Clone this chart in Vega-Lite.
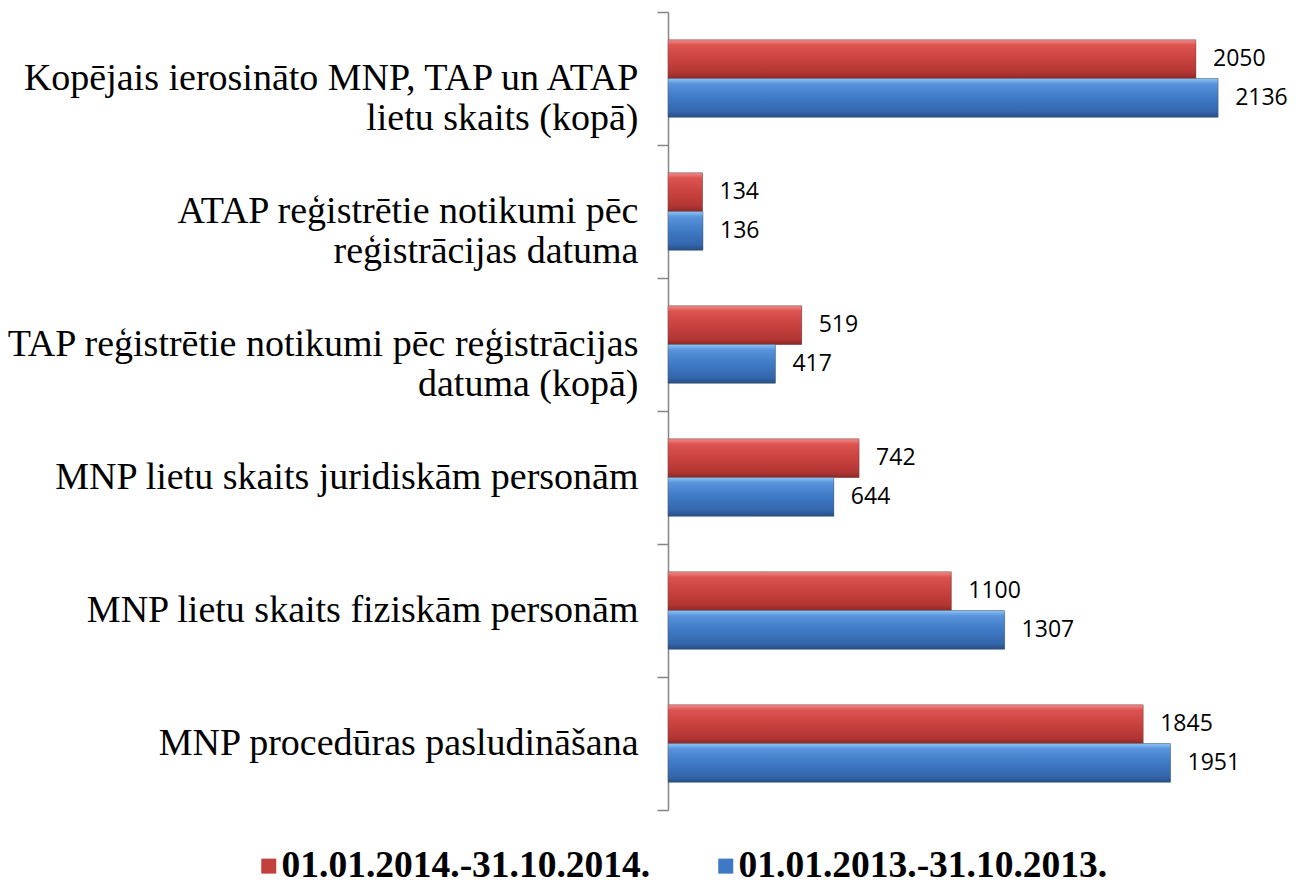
{
  "$schema": "https://vega.github.io/schema/vega-lite/v6.json",
  "width": 631,
  "height": 798,
  "autosize": {"type": "none"},
  "padding": {"left": 668, "top": 12, "right": 6, "bottom": 73},
  "background": "white",
  "config": {"view": {"stroke": null}},
  "data": {
    "values": [
      {"category": "Kopējais ierosināto MNP, TAP un ATAP|lietu skaits (kopā)", "series": "01.01.2014.-31.10.2014.", "value": 2050},
      {"category": "Kopējais ierosināto MNP, TAP un ATAP|lietu skaits (kopā)", "series": "01.01.2013.-31.10.2013.", "value": 2136},
      {"category": "ATAP reģistrētie notikumi pēc|reģistrācijas datuma", "series": "01.01.2014.-31.10.2014.", "value": 134},
      {"category": "ATAP reģistrētie notikumi pēc|reģistrācijas datuma", "series": "01.01.2013.-31.10.2013.", "value": 136},
      {"category": "TAP reģistrētie notikumi pēc reģistrācijas|datuma (kopā)", "series": "01.01.2014.-31.10.2014.", "value": 519},
      {"category": "TAP reģistrētie notikumi pēc reģistrācijas|datuma (kopā)", "series": "01.01.2013.-31.10.2013.", "value": 417},
      {"category": "MNP lietu skaits juridiskām personām", "series": "01.01.2014.-31.10.2014.", "value": 742},
      {"category": "MNP lietu skaits juridiskām personām", "series": "01.01.2013.-31.10.2013.", "value": 644},
      {"category": "MNP lietu skaits fiziskām personām", "series": "01.01.2014.-31.10.2014.", "value": 1100},
      {"category": "MNP lietu skaits fiziskām personām", "series": "01.01.2013.-31.10.2013.", "value": 1307},
      {"category": "MNP procedūras pasludināšana", "series": "01.01.2014.-31.10.2014.", "value": 1845},
      {"category": "MNP procedūras pasludināšana", "series": "01.01.2013.-31.10.2013.", "value": 1951}
    ]
  },
  "encoding": {
    "y": {
      "field": "category",
      "type": "nominal",
      "sort": null,
      "scale": {"paddingInner": 0, "paddingOuter": 0},
      "axis": {
        "title": null,
        "tickBand": "extent",
        "tickSize": 11,
        "tickWidth": 1.5,
        "tickColor": "#868686",
        "domainColor": "#868686",
        "domainWidth": 1.5,
        "labelFont": "Liberation Serif",
        "labelFontSize": 38,
        "labelColor": "black",
        "labelPadding": 19,
        "labelLimit": 0,
        "labelOverlap": false,
        "labelBound": false,
        "labelLineHeight": 40,
        "labelExpr": "split(datum.label, '|')"
      }
    },
    "yOffset": {
      "field": "series",
      "type": "nominal",
      "sort": ["01.01.2014.-31.10.2014.", "01.01.2013.-31.10.2013."],
      "scale": {"paddingInner": 0, "paddingOuter": 0.72}
    },
    "x": {"field": "value", "type": "quantitative", "scale": {"domain": [0, 2450], "nice": false}, "axis": null}
  },
  "layer": [
    {
      "mark": {"type": "bar"},
      "encoding": {
        "color": {
          "field": "series",
          "type": "nominal",
          "scale": {"domain": ["01.01.2014.-31.10.2014.", "01.01.2013.-31.10.2013."], "range": ["#C4403D", "#3D79C4"]},
          "legend": {
            "orient": "none",
            "legendX": -418,
            "legendY": 835,
            "direction": "horizontal",
            "title": null,
            "labelFont": "Liberation Serif",
            "labelFontWeight": "bold",
            "labelFontSize": 37.5,
            "labelColor": "black",
            "labelLimit": 0,
            "labelOffset": -6,
            "columnPadding": 56,
            "symbolType": "square",
            "symbolSize": 225,
            "symbolStrokeWidth": 0,
            "symbolOpacity": 1
          }
        }
      }
    },
    {
      "mark": {"type": "bar", "stroke": "#4a4a4a", "strokeOpacity": 0.35, "strokeWidth": 1},
      "encoding": {
        "fill": {
          "condition": {
            "test": "datum.series === '01.01.2014.-31.10.2014.'",
            "value": {"gradient": "linear", "x1": 0, "y1": 0, "x2": 0, "y2": 1, "stops": [
              {"offset": 0, "color": "#F08C89"},
              {"offset": 0.14, "color": "#DC5350"},
              {"offset": 0.5, "color": "#C9423F"},
              {"offset": 0.85, "color": "#B23634"},
              {"offset": 1, "color": "#8E2826"}
            ]}
          },
          "value": {"gradient": "linear", "x1": 0, "y1": 0, "x2": 0, "y2": 1, "stops": [
            {"offset": 0, "color": "#90C4F6"},
            {"offset": 0.14, "color": "#5893DB"},
            {"offset": 0.5, "color": "#3E7AC5"},
            {"offset": 0.85, "color": "#3467AD"},
            {"offset": 1, "color": "#274F86"}
          ]}
        }
      }
    },
    {
      "mark": {"type": "text", "align": "left", "baseline": "middle", "dx": 17, "font": "Open Sans", "fontSize": 23, "color": "black"},
      "encoding": {"text": {"field": "value", "type": "quantitative"}}
    }
  ]
}
